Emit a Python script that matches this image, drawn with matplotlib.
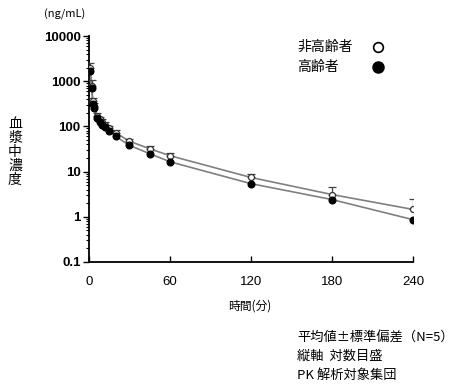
import matplotlib
matplotlib.use("Agg")
import matplotlib.pyplot as plt
import numpy as np

plt.rcParams['font.family'] = ['Liberation Sans', 'Noto Sans CJK JP', 'DejaVu Sans']

# Data (time in minutes, concentration ng/mL)
times = [1, 2, 3, 4, 6, 8, 10, 12, 15, 20, 30, 45, 60, 120, 180, 240]
non_elderly = [2000, 800, 360, 280, 170, 145, 125, 108, 92, 72, 47, 32, 22.5, 7.4, 3.1, 1.45]
non_elderly_sd = [500, 250, 60, 50, 25, 20, 18, 15, 12, 10, 6, 4.5, 3.5, 1.3, 1.5, 1.0]
elderly = [1700, 700, 320, 250, 150, 128, 110, 95, 80, 60, 38, 25, 16.5, 5.4, 2.4, 0.86]

xticks = [0, 60, 120, 180, 240]
yticks = [0.1, 1, 10, 100, 1000, 10000]
ytick_labels = ['0.1', '1', '10', '100', '1000', '10000']

fig = plt.figure(figsize=(4.58, 3.88), dpi=100)
ax = fig.add_axes([0.194, 0.325, 0.708, 0.582])

line_col = '#808080'
ax.plot(times, non_elderly, color=line_col, lw=1.2, zorder=2)
ax.plot(times, elderly, color=line_col, lw=1.2, zorder=2)
ax.errorbar(times, non_elderly, yerr=[np.zeros(len(times)), non_elderly_sd],
            fmt='none', ecolor='#444444', elinewidth=0.9, capsize=3, capthick=0.9, zorder=3)
ax.plot(times, non_elderly, 'o', ms=4.3, mfc='white', mec='#333333', mew=0.9, ls='none', zorder=4)
ax.plot(times, elderly, 'o', ms=4.8, mfc='black', mec='black', ls='none', zorder=5)

ax.set_yscale('log')
ax.set_ylim(0.1, 10000)
ax.set_xlim(0, 240)
ax.set_xticks(xticks)
ax.set_xticklabels([str(t) for t in xticks], fontsize=9.5)
ax.set_yticks(yticks)
ax.set_yticklabels(ytick_labels, fontsize=9.5, fontweight='bold')
ax.yaxis.set_minor_locator(matplotlib.ticker.LogLocator(base=10, subs=np.arange(2, 10)))
ax.yaxis.set_minor_formatter(matplotlib.ticker.NullFormatter())
ax.tick_params(axis='y', which='major', direction='out', length=4, width=1, pad=2)
ax.tick_params(axis='y', which='minor', direction='out', length=2.5, width=0.8)
ax.tick_params(axis='x', which='major', direction='in', length=4, width=1, pad=10)

for s in ['top', 'right']:
    ax.spines[s].set_visible(False)
for s in ['left', 'bottom']:
    ax.spines[s].set_linewidth(1.3)

jp = ['Noto Sans CJK JP', 'DejaVu Sans']

fig.text(65/458, 1-14/388, '(ng/mL)', fontsize=8, ha='center', va='center', family=jp)
fig.text(15/458, 1-152/388, '\n'.join('血漿中濃度'), fontsize=10, ha='center', va='center',
         family=jp, linespacing=1.0)
fig.text(250/458, 1-306/388, '時間(分)', fontsize=8.5, ha='center', va='center', family=jp)

fig.text(297/458, 1-47/388, '非高齢者', fontsize=10, ha='left', va='center', family=jp)
fig.text(297/458, 1-67/388, '高齢者', fontsize=10, ha='left', va='center', family=jp)
fig.lines.append(matplotlib.lines.Line2D([378/458], [1-47/388], marker='o', ms=7, mfc='white',
                                         mec='black', mew=1.2, transform=fig.transFigure))
fig.lines.append(matplotlib.lines.Line2D([378/458], [1-67/388], marker='o', ms=8, mfc='black',
                                         mec='black', transform=fig.transFigure))

notes = ['平均値±標準偏差（N=5）', '縦軸  対数目盛', 'PK 解析対象集団']
for i, n in enumerate(notes):
    fig.text(297/458, 1-(338+18.5*i)/388, n, fontsize=9.5, ha='left', va='center', family=jp)

fig.savefig('out.png', dpi=100)
